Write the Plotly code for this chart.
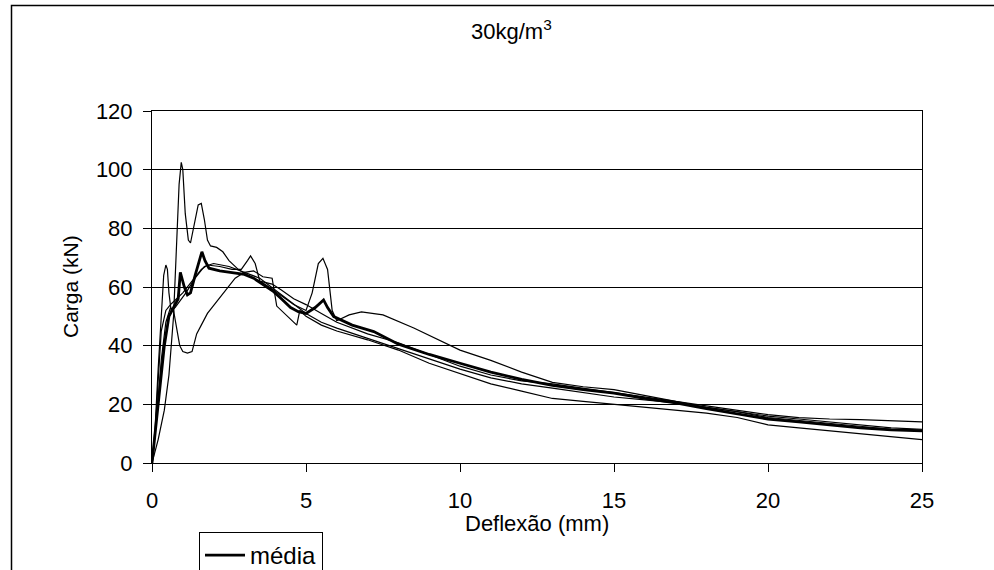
import plotly.graph_objects as go

# Curve A (early spike ~67)
a_x = [0, 0.1, 0.2, 0.3, 0.38, 0.45, 0.5, 0.55, 0.62, 0.75, 0.9, 1.1, 1.4, 1.7, 2.0, 2.5, 3.0, 3.5, 4.0, 4.5, 5.0, 5.5, 6.0, 7, 8, 9, 10, 11, 12, 13, 14, 15, 16, 17, 18, 19, 20, 21, 22, 23, 24, 25]
a_y = [0, 12, 32, 52, 64, 67.5, 66, 58, 52, 53, 55, 58, 63, 67, 68, 67, 65, 63, 59, 55, 51, 48, 46, 42.5, 39, 35.5, 32, 29, 27, 25.5, 24, 22.5, 21.5, 20.5, 19, 17.5, 15.5, 14.5, 13.5, 12.5, 11.5, 11]

# Curve B (peak ~102)
b_x = [0, 0.2, 0.4, 0.55, 0.7, 0.8, 0.88, 0.95, 1.0, 1.08, 1.18, 1.25, 1.35, 1.5, 1.6, 1.7, 1.8, 1.9, 2.1, 2.3, 2.5, 2.8, 3.1, 3.5, 3.9, 4.2, 4.6, 5.0, 5.5, 6, 7, 8, 9, 10, 11, 12, 13, 14, 15, 16, 17, 18, 19, 20, 21, 22, 23, 24, 25]
b_y = [0, 8, 18, 30, 50, 75, 95, 102.5, 100, 85, 76, 75, 80, 88, 88.5, 83, 76, 74, 73.5, 72, 69, 66, 64, 62, 61, 59, 56, 54, 51, 48, 44, 41, 37, 33, 30, 28, 27, 25.5, 24, 22.5, 21, 19, 17.5, 16, 15, 14, 13, 12, 11.5]

# Curve C (dip to ~38)
c_x = [0, 0.15, 0.3, 0.45, 0.6, 0.7, 0.8, 0.9, 1.0, 1.15, 1.3, 1.45, 1.6, 1.8, 2.1, 2.4, 2.7, 3.0, 3.3, 3.6, 3.9, 4.05, 4.4, 4.7, 4.8, 5.0, 5.5, 6, 7, 8, 9, 10, 11, 12, 13, 14, 15, 16, 17, 18, 19, 20, 21, 22, 23, 24, 25]
c_y = [0, 15, 35, 48, 53, 52, 46, 40, 38, 37.5, 38, 44, 47, 51, 55, 59, 63, 65, 65.5, 63.5, 63, 53.5, 50, 47, 52, 50, 47, 45, 42, 38.5, 34, 30.5, 27, 24.5, 22, 21, 20, 19, 18, 17, 15.5, 13, 12, 11, 10, 9, 8]

# Curve D (bumps at ~3.2 and ~5.5)
d_x = [0, 0.1, 0.2, 0.3, 0.45, 0.6, 0.8, 1.0, 1.3, 1.6, 1.8, 2.2, 2.6, 2.9, 3.1, 3.2, 3.35, 3.5, 3.8, 4.2, 4.6, 5.0, 5.2, 5.4, 5.55, 5.7, 5.85, 6.0, 6.4, 6.8, 7.5, 8.5, 9.5, 10, 11, 12, 13, 14, 15, 16, 17, 18, 19, 20, 21, 22, 23, 24, 25]
d_y = [0, 10, 28, 45, 52, 54, 56, 58, 62, 66, 67.5, 67, 66, 66, 69, 70.6, 68, 62, 60, 57, 54, 52, 58, 68, 69.8, 66, 52, 48.5, 50.5, 51.5, 50.5, 46, 41, 38.5, 35, 31, 27.5, 26, 25, 23, 21, 19.5, 18, 16.5, 15.5, 15, 14.8, 14.5, 14]

# Mean curve (média)
m_x = [0, 0.2, 0.4, 0.55, 0.7, 0.85, 0.92, 1.05, 1.15, 1.25, 1.4, 1.55, 1.62, 1.72, 1.85, 2.2, 2.5, 3.0, 3.3, 3.6, 3.95, 4.2, 4.5, 4.75, 5.0, 5.3, 5.57, 5.7, 5.9, 6.5, 7.2, 8, 9, 10, 11, 12, 13, 14, 15, 16, 17, 18, 19, 20, 21, 22, 23, 24, 25]
m_y = [0, 20, 40, 50, 53, 56, 65, 60, 57.3, 58, 64, 70, 72, 69, 66.4, 65.5, 65, 64.3, 63, 61, 58.4, 56, 53, 51.6, 51, 53, 55.6, 53, 49.9, 47, 44.8, 40.5, 37, 34, 31, 28.5, 26.5, 25, 23.8, 22, 20.5, 18.5, 16.8, 15, 14, 13, 12, 11.3, 11]

x_ticks = [0, 5, 10, 15, 20, 25]
y_ticks = [0, 20, 40, 60, 80, 100, 120]

FONT = "Liberation Sans, Arial, sans-serif"
TICK_FS = 22
TITLE_FS = 22

fig = go.Figure()
for xs, ys in [(a_x, a_y), (b_x, b_y), (c_x, c_y), (d_x, d_y)]:
    fig.add_trace(go.Scatter(x=xs, y=ys, mode="lines", line=dict(color="black", width=1.2),
                             showlegend=False, hoverinfo="skip"))
fig.add_trace(go.Scatter(x=m_x, y=m_y, mode="lines", name="média",
                         line=dict(color="black", width=2.8)))

W, H = 994, 570
L, R, T, B = 152, 922, 111, 463
pw, ph = R - L, B - T

def px(xp):
    return (xp - L) / pw

def py(yp):
    return (B - yp) / ph

fig.update_layout(
    width=W, height=H,
    margin=dict(l=L, r=W - R, t=T, b=H - B, autoexpand=False),
    paper_bgcolor="white", plot_bgcolor="white",
    font=dict(family=FONT, size=TICK_FS, color="black"),
    showlegend=True,
    legend=dict(x=px(199), y=py(532), xanchor="left", yanchor="top",
                bordercolor="black", borderwidth=1, bgcolor="white",
                font=dict(size=24, family=FONT), itemwidth=40,
                tracegroupgap=0),
    xaxis=dict(range=[0, 25], tickvals=x_ticks, showgrid=False, zeroline=False,
               showline=True, linecolor="black", linewidth=1, mirror=True,
               ticks="outside", ticklen=8, tickcolor="black", ticklabelstandoff=10,
               tickfont=dict(size=TICK_FS, family=FONT)),
    yaxis=dict(range=[0, 120], tickvals=y_ticks, showgrid=True, gridcolor="black",
               gridwidth=1, zeroline=False, showline=True, linecolor="black",
               linewidth=1, mirror=True, ticks="outside", ticklen=8, tickcolor="black",
               ticklabelstandoff=6, tickfont=dict(size=TICK_FS, family=FONT)),
    shapes=[dict(type="rect", xref="paper", yref="paper",
                 x0=px(11.5), x1=px(1010), y0=py(600), y1=py(5.5),
                 line=dict(color="black", width=1.5), fillcolor="rgba(0,0,0,0)",
                 layer="below")],
    annotations=[
        dict(text="30kg/m<sup>3</sup>", xref="paper", yref="paper", x=px(511), y=py(30),
             showarrow=False, xanchor="center", yanchor="middle", font=dict(size=TITLE_FS)),
        dict(text="Carga (kN)", xref="paper", yref="paper", x=px(70), y=py(287),
             showarrow=False, textangle=-90, xanchor="center", yanchor="middle",
             font=dict(size=21)),
        dict(text="Deflexão (mm)", xref="paper", yref="paper", x=px(537), y=py(523),
             showarrow=False, xanchor="center", yanchor="middle", font=dict(size=TITLE_FS)),
    ],
)

fig.write_html("out.html")
